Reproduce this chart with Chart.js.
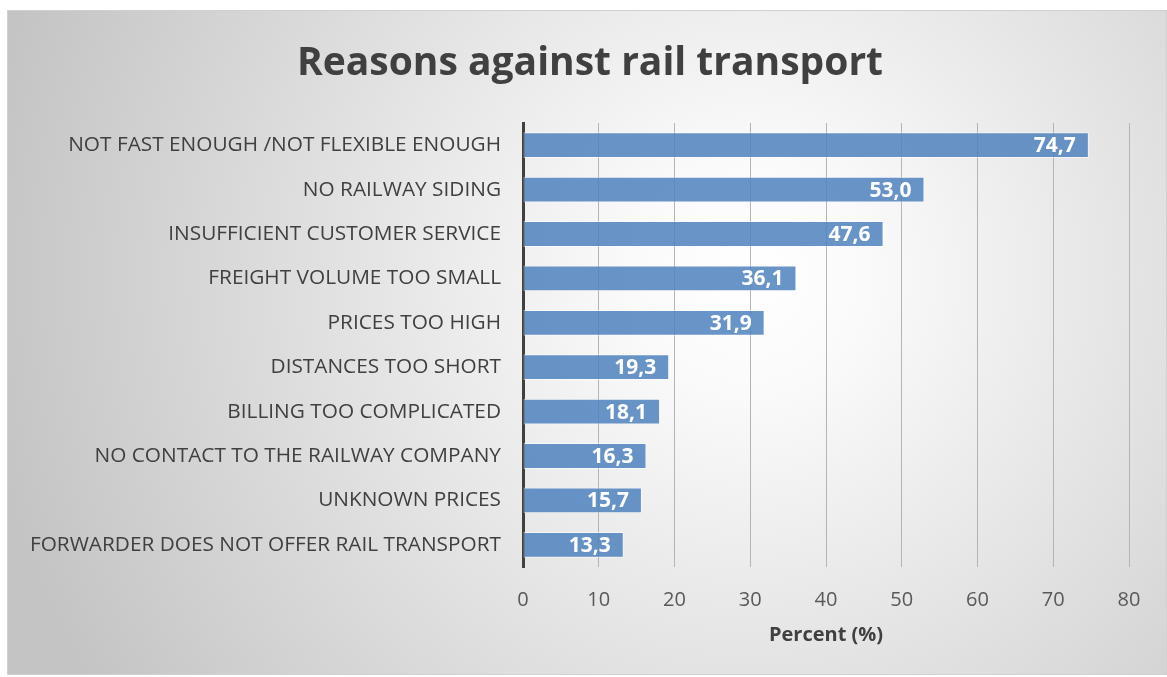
<!DOCTYPE html>
<html>
<head>
<meta charset="utf-8">
<script src="https://cdn.jsdelivr.net/npm/chart.js@4"></script>
<style>
  html, body { margin: 0; padding: 0; background: #ffffff; }
  #frame {
    position: absolute; left: 7px; top: 10px;
    width: 1160px; height: 665px;
    box-sizing: border-box;
    border: 1px solid #d0d0d0;
    background: radial-gradient(circle at 64% 40%, #ffffff 0%, #fafafa 14%, #c4c4c4 92%);
  }
  #frame canvas { position: absolute; left: 0; top: 0; }
</style>
</head>
<body>
<div id="frame"><canvas id="myChart"></canvas></div>
<script>
// Dados
const categories = [
  'NOT FAST ENOUGH /NOT FLEXIBLE ENOUGH',
  'NO RAILWAY SIDING',
  'INSUFFICIENT CUSTOMER SERVICE',
  'FREIGHT VOLUME TOO SMALL',
  'PRICES TOO HIGH',
  'DISTANCES TOO SHORT',
  'BILLING TOO COMPLICATED',
  'NO CONTACT TO THE RAILWAY COMPANY',
  'UNKNOWN PRICES',
  'FORWARDER DOES NOT OFFER RAIL TRANSPORT'
];
const percents = [74.7, 53.0, 47.6, 36.1, 31.9, 19.3, 18.1, 16.3, 15.7, 13.3];
const xTicks = [0, 10, 20, 30, 40, 50, 60, 70, 80];
const chartTitle = 'Reasons against rail transport';

const fontName = "'Open Sans', sans-serif";

// título centrado na moldura inteira
const frameTitle = {
  id: 'frameTitle',
  afterDraw(chart) {
    const ctx = chart.ctx;
    ctx.save();
    ctx.font = 'bold 39px ' + fontName;
    ctx.fillStyle = '#404040';
    ctx.textAlign = 'center';
    ctx.textBaseline = 'middle';
    ctx.fillText(chartTitle, chart.width / 2 + 3, 53);
    ctx.restore();
  }
};

// rótulos dentro das barras
const barLabels = {
  id: 'barLabels',
  afterDatasetsDraw(chart) {
    const ctx = chart.ctx;
    const meta = chart.getDatasetMeta(0);
    ctx.save();
    ctx.font = 'bold 21px ' + fontName;
    ctx.fillStyle = '#ffffff';
    ctx.textAlign = 'right';
    ctx.textBaseline = 'middle';
    meta.data.forEach((bar, i) => {
      const txt = percents[i].toFixed(1).replace('.', ',');
      ctx.fillText(txt, bar.x - 13, bar.y + 1);
    });
    ctx.restore();
  }
};

const ctx = document.getElementById('myChart');

new Chart(ctx, {
  type: 'bar',
  data: {
    labels: categories,
    datasets: [{
      label: 'Percent (%)',
      data: percents,
      backgroundColor: 'rgba(79,129,189,0.85)',
      borderColor: 'rgba(255,255,255,0.55)',
      borderWidth: 1,
      borderSkipped: false,
      barPercentage: 0.58,
      categoryPercentage: 1
    }]
  },
  options: {
    indexAxis: 'y',
    responsive: true,
    maintainAspectRatio: false,
    animation: false,
    layout: { padding: { top: 112, right: 37, bottom: 0, left: 0 } },
    plugins: {
      legend: { display: false },
      tooltip: { enabled: false },
      title: { display: false }
    },
    scales: {
      x: {
        min: 0,
        max: 80,
        afterBuildTicks(scale) {
          scale.ticks = xTicks.map(v => ({ value: v }));
        },
        afterFit(scale) { scale.height = 107; },
        grid: { color: '#b4b4b4', lineWidth: 1, drawTicks: false },
        border: { display: false },
        ticks: {
          color: '#595959',
          padding: 21,
          font: { family: fontName, size: 20 }
        },
        title: {
          display: true,
          text: 'Percent (%)',
          color: '#404040',
          font: { family: fontName, size: 20, weight: 'bold', lineHeight: 1.2 },
          padding: { top: 4, bottom: 27 }
        }
      },
      y: {
        afterFit(scale) { scale.width = 515; },
        grid: { display: false, drawTicks: false },
        border: { display: true, color: '#404040', width: 3 },
        ticks: {
          color: '#404040',
          padding: 22,
          font: { family: fontName, size: 20.8 }
        }
      }
    }
  },
  plugins: [barLabels, frameTitle]
});
</script>
</body>
</html>
